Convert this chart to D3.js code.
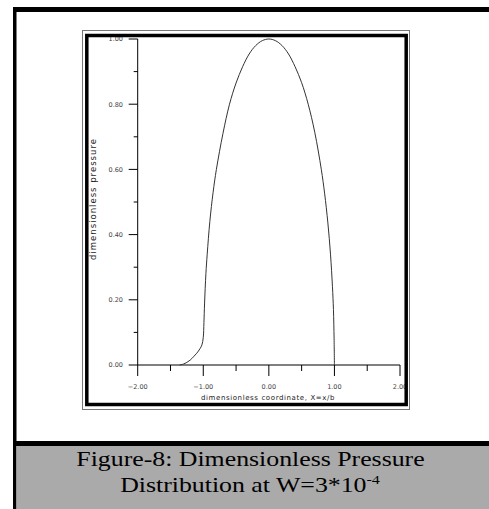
<!DOCTYPE html>
<html>
<head>
<meta charset="utf-8">
<script src="https://cdn.jsdelivr.net/npm/d3@7"></script>
<style>
  body { margin: 0; background: #fff; }
  svg { display: block; }
</style>
</head>
<body>
<svg id="chart" width="489" height="509"></svg>
<script>
// Data: dimensionless coordinate X and pressure P
const xs = [-1.36, -1.30, -1.25, -1.20, -1.15, -1.10, -1.05, -1.02, -1.00, -0.99, -0.98,
            -0.96, -0.94, -0.90, -0.85, -0.80, -0.70, -0.60, -0.50, -0.40, -0.30, -0.20,
            -0.10, 0.00, 0.10, 0.20, 0.30, 0.40, 0.50, 0.60, 0.70, 0.80, 0.85, 0.90,
            0.94, 0.97, 0.985, 0.995, 1.00];
const ps = [0.000, 0.003, 0.008, 0.015, 0.025, 0.036, 0.050, 0.062, 0.085, 0.13, 0.19,
            0.28, 0.34, 0.44, 0.53, 0.60, 0.71, 0.80, 0.865, 0.915, 0.954, 0.980,
            0.995, 1.000, 0.995, 0.980, 0.954, 0.915, 0.866, 0.800, 0.714, 0.600, 0.527, 0.436,
            0.340, 0.240, 0.170, 0.080, 0.000];
const xTicks = [-2, -1, 0, 1, 2];
const xMinor = [-1.5, -0.5, 0.5, 1.5];
const yTicks = [0, 0.2, 0.4, 0.6, 0.8, 1.0];
const yMinor = [0.1, 0.3, 0.5, 0.7, 0.9];
const xTitle = 'dimensionless coordinate, X=x/b';
const yTitle = 'dimensionless pressure';
const captionLines = ['Figure-8: Dimensionless Pressure', 'Distribution at W=3*10'];

let svg = d3.select('#chart');

// Scales
let x = d3.scaleLinear().domain([-2, 2]).range([137.7, 400]);
let y = d3.scaleLinear().domain([0, 1]).range([365, 39]);

const tickFont = '"DejaVu Sans", sans-serif';

// Axes drawn by hand to get the outside major/minor ticks
let gx = svg.append('g');
gx.append('line').attr('x1', x(-2)).attr('x2', x(2)).attr('y1', y(0)).attr('y2', y(0))
    .attr('stroke', '#000');
gx.selectAll('.maj').data(xTicks).enter().append('line')
    .attr('x1', (d) => x(d)).attr('x2', (d) => x(d))
    .attr('y1', y(0)).attr('y2', y(0) + 11).attr('stroke', '#000');
gx.selectAll('.min').data(xMinor).enter().append('line')
    .attr('x1', (d) => x(d)).attr('x2', (d) => x(d))
    .attr('y1', y(0)).attr('y2', y(0) + 6).attr('stroke', '#000');
gx.selectAll('text').data(xTicks).enter().append('text')
    .attr('x', (d) => x(d)).attr('y', 389)
    .attr('text-anchor', 'middle')
    .attr('font-family', tickFont).attr('font-size', 6.5).attr('fill', '#444')
    .text((d) => d3.format('.2f')(d));

let gy = svg.append('g');
gy.append('line').attr('x1', x(-2)).attr('x2', x(-2)).attr('y1', y(0)).attr('y2', y(1))
    .attr('stroke', '#000');
gy.selectAll('.maj').data(yTicks).enter().append('line')
    .attr('x1', x(-2) - 9).attr('x2', x(-2))
    .attr('y1', (d) => y(d)).attr('y2', (d) => y(d)).attr('stroke', '#000');
gy.selectAll('.min').data(yMinor).enter().append('line')
    .attr('x1', x(-2) - 4).attr('x2', x(-2))
    .attr('y1', (d) => y(d)).attr('y2', (d) => y(d)).attr('stroke', '#000');
gy.selectAll('text').data(yTicks).enter().append('text')
    .attr('x', 123).attr('y', (d) => y(d) + 2.3)
    .attr('text-anchor', 'end')
    .attr('font-family', tickFont).attr('font-size', 6.5).attr('fill', '#444')
    .text((d) => d3.format('.2f')(d));

// Axis titles
svg.append('text')
    .attr('x', 268).attr('y', 400)
    .attr('text-anchor', 'middle')
    .attr('font-family', tickFont).attr('font-size', 7).attr('letter-spacing', 0.6)
    .attr('fill', '#222')
    .text(xTitle);
svg.append('text')
    .attr('transform', 'translate(96,199) rotate(-90)')
    .attr('text-anchor', 'middle')
    .attr('font-family', tickFont).attr('font-size', 8.5).attr('letter-spacing', 1)
    .attr('fill', '#222')
    .text(yTitle);

// Pressure curve
let pts = xs.map((d, i) => [d, ps[i]]);
let line = d3.line()
    .x((d) => x(d[0]))
    .y((d) => y(d[1]))
    .curve(d3.curveCatmullRom.alpha(0.5));
svg.append('path').datum(pts)
    .attr('d', line)
    .attr('fill', 'none')
    .attr('stroke', '#333')
    .attr('stroke-width', 1);

// Chart frame: thin outer line + thick black inner line
svg.append('rect').attr('x', 82.5).attr('y', 30.5).attr('width', 327).attr('height', 379)
    .attr('fill', 'none').attr('stroke', '#777').attr('stroke-width', 1);
svg.append('rect').attr('x', 86.8).attr('y', 35.5).attr('width', 319.4).attr('height', 369)
    .attr('fill', 'none').attr('stroke', '#000').attr('stroke-width', 3.5);

// Page border
svg.append('rect').attr('x', 13).attr('y', 7).attr('width', 476).attr('height', 5).attr('fill', '#000');
svg.append('rect').attr('x', 13).attr('y', 7).attr('width', 3.5).attr('height', 502).attr('fill', '#000');

// Caption block
svg.append('rect').attr('x', 13).attr('y', 441).attr('width', 476).attr('height', 5).attr('fill', '#000');
svg.append('rect').attr('x', 16.5).attr('y', 446).attr('width', 472.5).attr('height', 63).attr('fill', '#aaaaaa');

const capFont = '"Liberation Serif", "Times New Roman", serif';
let cap1 = svg.append('g').attr('transform', 'translate(250.5,466) scale(1.23,1)');
cap1.append('text')
    .attr('text-anchor', 'middle')
    .attr('font-family', capFont).attr('font-size', 21).attr('fill', '#000')
    .text(captionLines[0]);
let cap2 = svg.append('g').attr('transform', 'translate(250,492) scale(1.23,1)');
let t2 = cap2.append('text')
    .attr('text-anchor', 'middle')
    .attr('font-family', capFont).attr('font-size', 21).attr('fill', '#000');
t2.append('tspan').text(captionLines[1]);
t2.append('tspan').attr('font-size', 13).attr('dy', -8).text('-4');
</script>
</body>
</html>
